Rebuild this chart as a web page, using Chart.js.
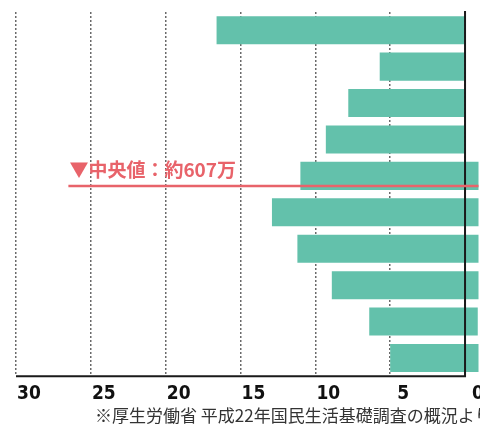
<!DOCTYPE html>
<html>
<head>
<meta charset="utf-8">
<script src="https://cdn.jsdelivr.net/npm/chart.js@4.4.0/dist/chart.umd.min.js"></script>
<style>
  html, body { margin: 0; padding: 0; background: #fff; }
  #wrap { width: 480px; height: 427px; position: relative; }
</style>
</head>
<body>
<div id="wrap"><canvas id="chart"></canvas></div>
<script>
// Household income brackets, top to bottom
const categories = ['1000万以上', '900〜1000万', '800〜900万', '700〜800万', '600〜700万',
                    '500〜600万', '400〜500万', '300〜400万', '200〜300万', '200万未満'];
// share of households (%)
const shares = [16.6, 5.7, 7.8, 9.3, 11.0, 12.9, 11.2, 8.9, 6.4, 5.0];
// where each bar starts (the lower bars run slightly past zero in the picture)
const barStart = [0, 0, 0, 0, -0.9, -0.9, -0.9, -0.9, -0.85, -0.9];
const xTicks = [0, 5, 10, 15, 20, 25, 30];

const medianLabel = '▼中央値：約607万';
const sourceNote = '※厚生労働省 平成22年国民生活基礎調査の概況より';

const red = '#e8636a';

// zero line, bottom axis, median marker and source note
const overlay = {
    id: 'overlay',
    afterDatasetsDraw(chart) {
        const { ctx, chartArea, scales: { x, y } } = chart;
        const x0 = x.getPixelForValue(0);
        ctx.save();
        ctx.strokeStyle = '#1a1a1a';
        ctx.lineWidth = 2;
        ctx.beginPath();
        ctx.moveTo(x0, chartArea.top - 1);
        ctx.lineTo(x0, chartArea.bottom + 1);
        ctx.moveTo(x.getPixelForValue(30), chartArea.bottom);
        ctx.lineTo(x0 + 1, chartArea.bottom);
        ctx.stroke();

        // median sits just inside the 600-700 bracket
        const my = y.getPixelForValue(4) + 10;
        const mx = x.getPixelForValue(26.5);
        ctx.strokeStyle = red;
        ctx.lineWidth = 2.5;
        ctx.beginPath();
        ctx.moveTo(mx, my);
        ctx.lineTo(x.getPixelForValue(-0.9), my);
        ctx.stroke();
        ctx.fillStyle = red;
        ctx.font = 'bold 19px "Noto Sans CJK JP"';
        ctx.textAlign = 'left';
        ctx.textBaseline = 'alphabetic';
        ctx.fillText(medianLabel, mx + 1, my - 9);

        ctx.fillStyle = '#333';
        ctx.font = '17px "Noto Sans CJK JP"';
        ctx.fillText(sourceNote, 95, chart.height - 5);
        ctx.restore();
    }
};

new Chart(document.getElementById('chart'), {
    type: 'bar',
    data: {
        labels: categories,
        datasets: [{
            data: shares.map((v, i) => [barStart[i], v]),
            backgroundColor: '#63c1ab',
            borderWidth: 0,
            barPercentage: 0.77,
            categoryPercentage: 1
        }]
    },
    options: {
        indexAxis: 'y',
        responsive: true,
        maintainAspectRatio: false,
        animation: false,
        layout: { padding: { top: 12, left: 16, right: 0, bottom: 16 } },
        plugins: {
            legend: { display: false },
            tooltip: { enabled: false }
        },
        scales: {
            x: {
                reverse: true,
                min: -1,
                max: 30,
                afterBuildTicks: (axis) => { axis.ticks = xTicks.map(v => ({ value: v })); },
                grid: {
                    color: '#6a6a6a',
                    lineWidth: 1.5,
                    drawTicks: false
                },
                border: { display: false, dash: [2, 2] },
                ticks: {
                    color: '#111',
                    padding: 6,
                    labelOffset: 13,
                    maxRotation: 0,
                    font: { family: '"Liberation Sans Narrow", "DejaVu Sans Condensed"', weight: 'bold', size: 19 }
                }
            },
            y: {
                display: false
            }
        }
    },
    plugins: [overlay]
});
</script>
</body>
</html>
